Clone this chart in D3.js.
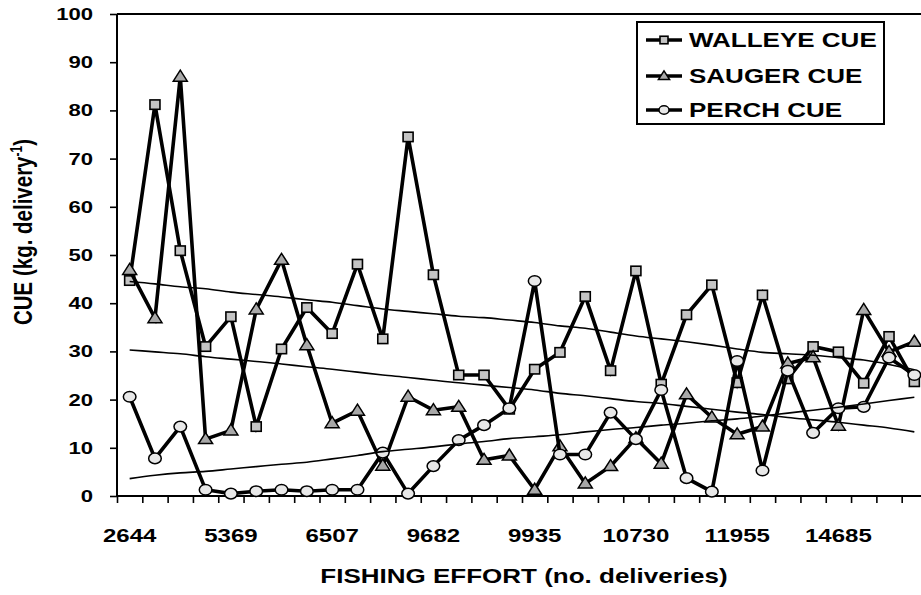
<!DOCTYPE html>
<html>
<head>
<meta charset="utf-8">
<script src="https://cdn.jsdelivr.net/npm/d3@7"></script>
<style>
body { margin: 0; background: #fff; }
text { font-family: "Liberation Sans", Arial, sans-serif; font-weight: bold; fill: #000; }
</style>
</head>
<body>
<svg id="chart" width="921" height="595"></svg>
<script>
// x categories: only every 4th fishing effort value is labelled on the axis
var tickLabels = ["2644", "5369", "6507", "9682", "9935", "10730", "11955", "14685"];
var labelEvery = 4;
var yTicks = [0, 10, 20, 30, 40, 50, 60, 70, 80, 90, 100];
var seriesNames = ["WALLEYE CUE", "SAUGER CUE", "PERCH CUE"];

// CUE per category
var walleye = [44.7, 81.2, 50.9, 31.0, 37.2, 14.4, 30.5, 39.1, 33.7, 48.1, 32.6, 74.5, 45.9, 25.1, 25.1, 18.0,
               26.3, 29.8, 41.4, 26.0, 46.7, 23.2, 37.6, 43.8, 23.5, 41.7, 24.3, 31.0, 29.9, 23.4, 33.1, 23.7];
var sauger = [46.9, 36.9, 87.0, 11.8, 13.6, 38.7, 49.0, 31.3, 15.1, 17.7, 6.3, 20.6, 17.8, 18.5, 7.5, 8.4,
              1.3, 10.3, 2.6, 6.2, 12.0, 6.7, 21.1, 16.3, 12.8, 14.4, 27.5, 28.8, 14.6, 38.6, 29.9, 32.0];
var perch = [20.6, 7.8, 14.4, 1.3, 0.5, 1.0, 1.3, 1.0, 1.3, 1.3, 9.0, 0.5, 6.2, 11.6, 14.7, 18.2,
             44.6, 8.6, 8.6, 17.3, 11.8, 22.0, 3.7, 0.9, 28.0, 5.3, 26.0, 13.1, 18.2, 18.5, 28.7, 25.1];

// thin trend lines
var walleyeTrend = [44.5, 44.0, 43.4, 43.0, 42.3, 41.8, 41.3, 40.7, 40.2, 39.5, 38.8, 38.3, 37.8, 37.3, 37.0, 36.5,
                    36.0, 35.3, 34.8, 34.0, 33.2, 32.6, 32.0, 31.3, 30.5, 29.8, 29.5, 29.2, 28.7, 28.2, 27.3, 26.2];
var saugerTrend = [30.3, 29.9, 29.5, 28.9, 28.4, 27.9, 27.4, 26.8, 26.3, 25.7, 25.1, 24.6, 24.0, 23.5, 23.0, 22.5,
                   22.0, 21.3, 20.8, 20.2, 19.6, 19.2, 18.6, 18.0, 17.4, 16.9, 16.3, 15.8, 15.3, 14.7, 14.1, 13.3];
var perchTrend = [3.6, 4.3, 4.8, 5.1, 5.6, 6.1, 6.6, 7.0, 7.7, 8.4, 9.2, 9.7, 10.2, 10.8, 11.3, 11.9,
                  12.3, 12.7, 13.3, 13.8, 14.2, 14.7, 15.1, 15.6, 16.0, 16.6, 17.2, 17.8, 18.4, 19.1, 19.8, 20.5];

var SX = 1.3; // text in the original looks stretched sideways

const svg = d3.select("#chart"),
    plotLeft = 117, plotRight = 927, plotTop = 14, plotBottom = 496;

const idx = d3.range(walleye.length);

const x = d3.scaleBand().domain(idx).range([plotLeft, plotRight]).padding(0);
const xEdge = d3.scaleLinear().domain([0, idx.length]).range([plotLeft, plotRight]);
const y = d3.scaleLinear().domain([0, 100]).range([plotBottom, plotTop]);
const cx = function (i) { return x(i) + x.bandwidth() / 2; };

function label(g, px, py, str, size, anchor) {
    return g.append("text")
        .attr("transform", "translate(" + px + "," + py + ") scale(" + SX + ",1)")
        .attr("text-anchor", anchor)
        .style("font-size", size + "px")
        .text(str);
}

// top border
svg.append("line")
    .attr("x1", plotLeft).attr("x2", plotRight)
    .attr("y1", plotTop).attr("y2", plotTop)
    .attr("stroke", "#000").attr("stroke-width", 2);

// y axis
const yAxis = svg.append("g")
    .attr("transform", "translate(" + plotLeft + ",0)")
    .call(d3.axisLeft(y).tickValues(yTicks).tickSize(7).tickFormat(""));
yAxis.select(".domain").attr("stroke-width", 2).attr("d", "M0," + plotTop + "V" + plotBottom);
yAxis.selectAll(".tick line").attr("stroke-width", 1.6);

yTicks.forEach(function (v) {
    label(svg, 93, y(v) + 6, v, 17, "end");
});

// x axis: ticks between categories
const xAxis = svg.append("g")
    .attr("transform", "translate(0," + plotBottom + ")")
    .call(d3.axisBottom(xEdge).tickValues(d3.range(idx.length + 1)).tickSize(7).tickFormat(""));
xAxis.select(".domain").attr("stroke-width", 2).attr("d", "M" + plotLeft + ",0H" + plotRight);
xAxis.selectAll(".tick line").attr("stroke-width", 1.6);

tickLabels.forEach(function (t, k) {
    label(svg, cx(k * labelEvery), 542, t, 18.5, "middle");
});

// axis titles
label(svg, 524, 583, "FISHING EFFORT (no. deliveries)", 20, "middle");

const yt = svg.append("text")
    .attr("transform", "translate(32,232) scale(" + SX + ",1) rotate(-90)")
    .attr("text-anchor", "middle")
    .style("font-size", "20.5px");
yt.append("tspan").text("CUE (kg. delivery");
yt.append("tspan").attr("dy", -8).style("font-size", "12px").text("-1");
yt.append("tspan").attr("dy", 8).text(")");

// markers
function drawMarker(g, type, px, py, s) {
    if (type === "square") {
        g.append("rect")
            .attr("x", px - 5 * s).attr("y", py - 4.7 * s)
            .attr("width", 10 * s).attr("height", 9.4 * s)
            .attr("fill", "#c4c4c4").attr("stroke", "#000").attr("stroke-width", 1.6);
    } else if (type === "triangle") {
        g.append("path")
            .attr("d", "M" + px + "," + (py - 6.5 * s) + "L" + (px + 7 * s) + "," + (py + 4.5 * s) +
                "L" + (px - 7 * s) + "," + (py + 4.5 * s) + "Z")
            .attr("fill", "#a8a8a8").attr("stroke", "#000").attr("stroke-width", 1.5);
    } else {
        g.append("ellipse")
            .attr("cx", px).attr("cy", py)
            .attr("rx", 6.3 * s).attr("ry", 5.3 * s)
            .attr("fill", "#e8e8e8").attr("stroke", "#000").attr("stroke-width", 1.5);
    }
}

const series = [
    {values: walleye, marker: "square"},
    {values: sauger, marker: "triangle"},
    {values: perch, marker: "circle"}
];

const line = d3.line()
    .x(function (d, i) { return cx(i); })
    .y(function (d) { return y(d); });

series.forEach(function (s) {
    const g = svg.append("g");
    g.append("path")
        .attr("d", line(s.values))
        .attr("fill", "none")
        .attr("stroke", "#000")
        .attr("stroke-width", 3.6)
        .attr("stroke-linejoin", "miter");
    s.values.forEach(function (v, i) {
        drawMarker(g, s.marker, cx(i), y(v), 1);
    });
});

// trend lines
const trendLine = d3.line()
    .x(function (d, i) { return cx(i); })
    .y(function (d) { return y(d); })
    .curve(d3.curveMonotoneX);
[walleyeTrend, saugerTrend, perchTrend].forEach(function (t) {
    svg.append("path")
        .attr("d", trendLine(t))
        .attr("fill", "none")
        .attr("stroke", "#000")
        .attr("stroke-width", 1.6);
});

// legend
const lg = svg.append("g");
lg.append("rect")
    .attr("x", 637).attr("y", 22)
    .attr("width", 247).attr("height", 102)
    .attr("fill", "#fff").attr("stroke", "#000").attr("stroke-width", 2);
const rowY = [40, 76, 110];
seriesNames.forEach(function (name, k) {
    lg.append("line")
        .attr("x1", 646).attr("x2", 682)
        .attr("y1", rowY[k]).attr("y2", rowY[k])
        .attr("stroke", "#000").attr("stroke-width", 3.4);
    drawMarker(lg, series[k].marker, 664, rowY[k], 0.8);
    label(lg, 689, rowY[k] + 7.3, name, 20, "start");
});
</script>
</body>
</html>
